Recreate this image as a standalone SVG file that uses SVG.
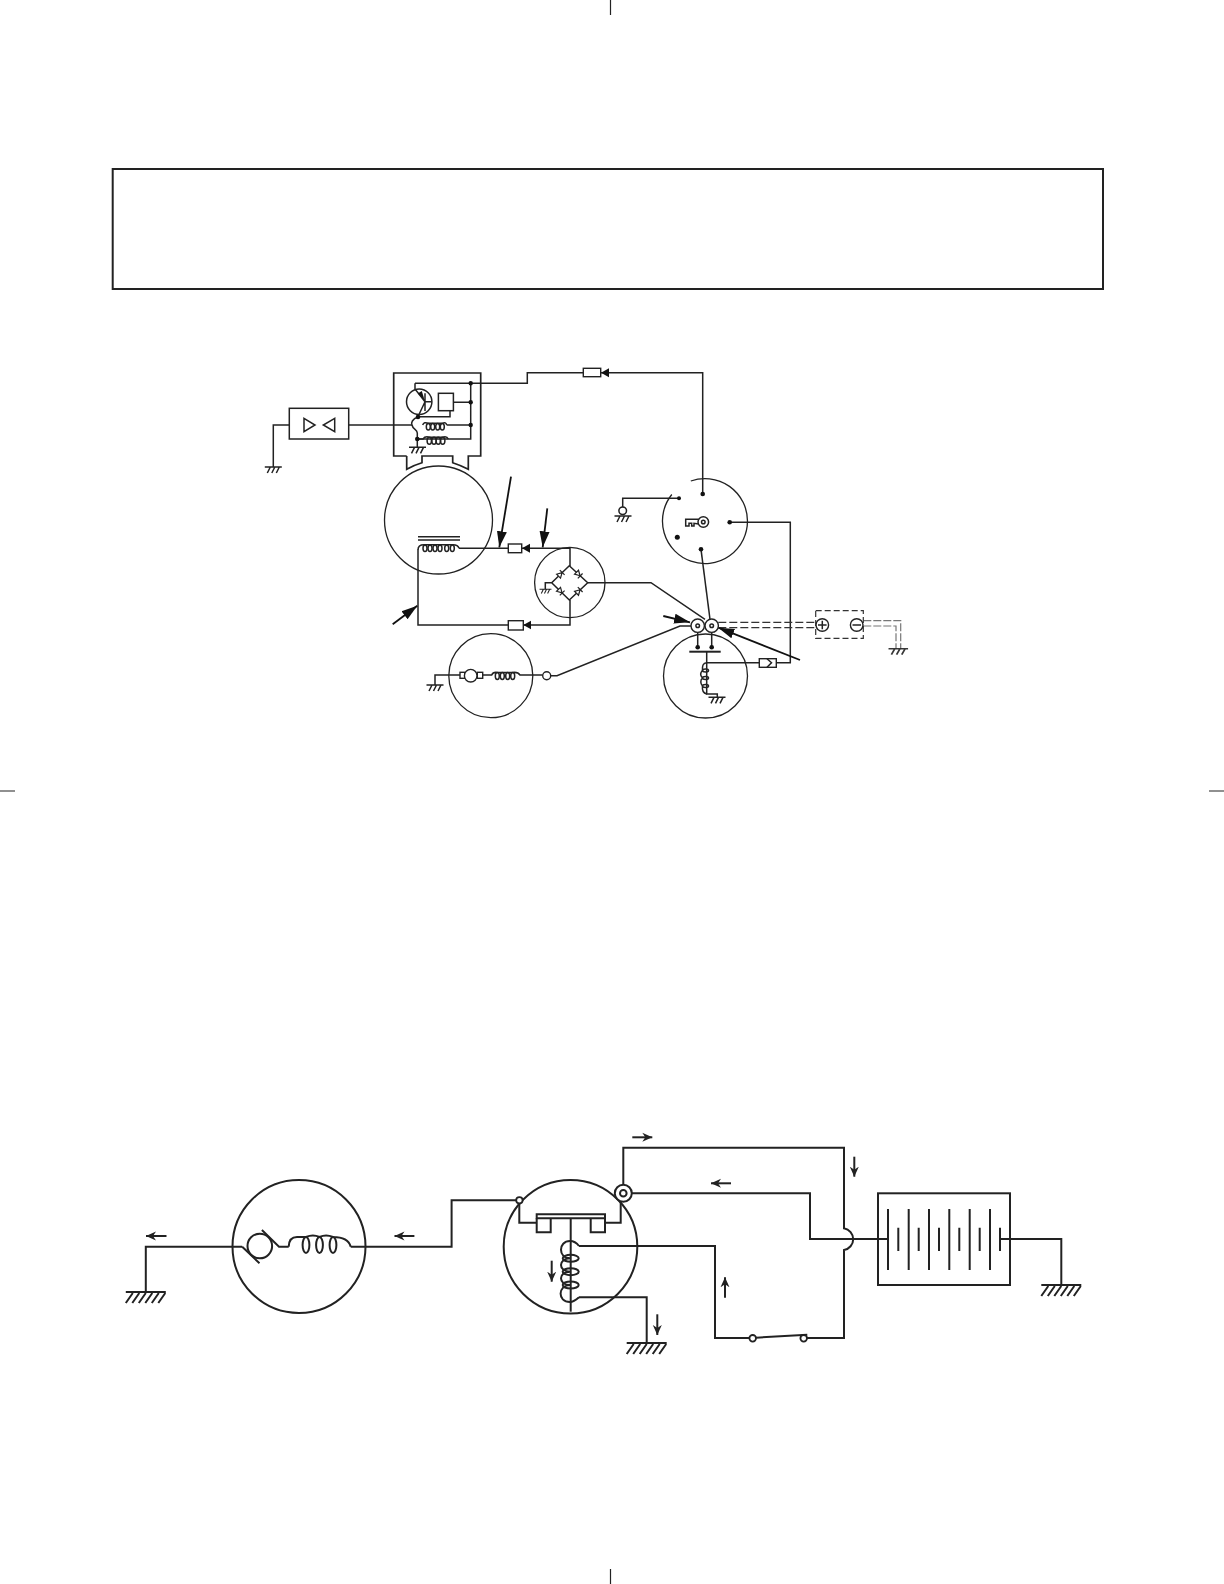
<svg xmlns="http://www.w3.org/2000/svg" width="1224" height="1584" viewBox="0 0 1224 1584">
<style>
.w{fill:none;stroke:#222;stroke-width:1.5;stroke-linejoin:miter}
.b{fill:none;stroke:#222;stroke-width:2;stroke-linejoin:miter}
.f{fill:#fff;stroke:#222;stroke-width:1.4}
.k{fill:#111;stroke:none}
.d{fill:none;stroke:#333;stroke-width:1.2;stroke-dasharray:8 3}
.g{fill:none;stroke:#777;stroke-width:1.2;stroke-dasharray:8 2}
.l{fill:none;stroke:#111;stroke-width:1.8}
</style>
<defs>
<marker id="head" markerUnits="userSpaceOnUse" markerWidth="17" markerHeight="12" refX="16" refY="6" orient="auto"><path d="M0,1 L16,6 L0,11z" fill="#111"/></marker>
<marker id="tip" markerUnits="userSpaceOnUse" markerWidth="9" markerHeight="10" refX="8" refY="5" orient="auto"><path d="M0,0.500 L8,5 L0,9.500z" fill="#111"/></marker>
<marker id="barb" markerUnits="userSpaceOnUse" markerWidth="11" markerHeight="12" refX="10" refY="6" orient="auto"><path d="M0,1.500 L10,6 L0,10.500 L3,6z" fill="#222"/></marker>
<g id="gs" class="w"><path d="M-8.500,0H8.500M-3,0l-3,6M1.500,0l-3,6M6,0l-3,6"/></g>
<g id="gl" class="b"><path d="M-20,0H20M-13,1l-7,10M-6.500,1l-7,10M0,1l-7,10M6.500,1l-7,10M13,1l-7,10M19.500,1l-7,10"/></g>
<g id="diode"><path d="M-2.800,-2.800V2.800L2.200,0z" fill="#fff" stroke="#222" stroke-width="1.200"/><path d="M2.400,-3.400V3.400" stroke="#222" stroke-width="1.200"/></g>
</defs>

<g id="page-marks" class="w" style="stroke-width:1.200">
<path d="M610.500,0V15M610.500,1569V1584M0,791H15M1209,791H1224"/>
</g>
<g id="title-box"><rect x="112.700" y="169" width="990.300" height="120" fill="none" stroke="#222" stroke-width="2"/></g>

<g id="connectors">
<g class="w">
<path d="M289.300,425H273.300V467"/>
<path d="M348.700,425H412"/>
<path d="M415,383.300H527.300V372.700H583.300"/>
<path d="M702.700,494V372.700H601" marker-end="url(#tip)"/>
<path d="M459,548.300H508.300"/>
<path d="M570,566V548.300H522" marker-end="url(#tip)"/>
<path d="M570,600V625H523.300" marker-end="url(#tip)"/>
<path d="M508.300,625H418V549.500"/>
<path d="M587.700,582.700H651L705,619.300"/>
<path d="M550.700,675.700H557L680,626H691"/>
<path d="M679,498.300H622.700V507"/>
<path d="M729.700,522.300H790.300V662.700H776.700"/>
<path d="M759.300,662.700H706.700"/>
<path d="M701,549.300L710,619.300"/>
<path d="M697.700,632V647.300M711.700,632V647.300"/>
</g>
<path class="d" d="M718.300,622.300H816M718.300,627.700H816"/>
<path class="g" d="M863.300,620.700H900.700V648.700M863.300,626H896V648.700"/>
<g>
<path class="l" d="M511,476.700L499.300,547.300" marker-end="url(#head)"/>
<path class="l" d="M547.300,508.300L542.700,547.300" marker-end="url(#head)"/>
<path class="l" d="M392.700,624.300L417.300,605.700" marker-end="url(#head)"/>
<path class="l" d="M663.300,616L690,622.300" marker-end="url(#head)"/>
<path class="l" d="M800,660L718.300,627.700" marker-end="url(#head)"/>
</g>
<g class="b">
<path d="M242.200,1246.700H145.800V1292"/>
<path d="M350.700,1246.700H451.600V1200.300H516"/>
<path d="M623.300,1185V1147.700H844V1228.300A11,11 0 0 1 844,1250V1338H807"/>
<path d="M631.700,1193.300H810V1239H888"/>
<path d="M579,1246H715V1338H749.400"/>
<path d="M756,1337.700L807.300,1334.700"/>
<path d="M1000,1239H1061.300V1285"/>
<path d="M579,1297.300H646.700V1343"/>
</g>
<g class="b">
<path d="M166.500,1236H146" marker-end="url(#barb)"/>
<path d="M414.400,1236H394.500" marker-end="url(#barb)"/>
<path d="M632.300,1137.300H652.300" marker-end="url(#barb)"/>
<path d="M854.300,1156.700V1176.700" marker-end="url(#barb)"/>
<path d="M731,1183.300H711" marker-end="url(#barb)"/>
<path d="M725,1297.700V1277.300" marker-end="url(#barb)"/>
<path d="M657.300,1314.300V1335" marker-end="url(#barb)"/>
<path d="M551.700,1260.700V1281.700" marker-end="url(#barb)"/>
</g>
</g>

<g id="diode-trio">
<rect class="w" x="289.300" y="408.300" width="59.400" height="30.700"/>
<path class="w" d="M304,418.300L315,425L304,431.700zM334.700,418.300L323.300,425L334.700,431.700z"/>
<use href="#gs" x="273.300" y="467"/>
</g>

<g id="regulator">
<path class="w" style="stroke-width:1.700" d="M406.700,456H393.700V373H480.700V456H468.300V469.300Q460,465 452.700,462.700V456H422V462.700Q414,465 406.700,469.300V456"/>
<circle class="w" cx="419.200" cy="401.700" r="12.700"/>
<path class="w" d="M415,383.300V389L425,401.700M425,393.300V411M425,401.700L417.700,417.300M425,401.700H431.700"/>
<path class="k" d="M424.500,400L417.800,393.500L421.800,391z"/>
<rect class="w" x="438.400" y="393.300" width="15" height="17.400"/>
<path class="w" d="M453.400,402.300H470.700M450,410.700V416.700H418M470.700,383.300V439H417.300M446.700,425H470.700"/>
<path class="w" d="M418,417C412,419 411,423 412,425C413,430 417,429 417.300,433V447.300"/>
<path class="w" d="M422.700,425Q424,421.500 428.300,423.300H442.300Q446,421.500 446.700,425"/>
<g class="w" fill="none"><ellipse cx="428.300" cy="426.700" rx="2" ry="3.300"/><ellipse cx="432.700" cy="426.700" rx="2" ry="3.300"/><ellipse cx="437.700" cy="426.700" rx="2" ry="3.300"/><ellipse cx="442.300" cy="426.700" rx="2" ry="3.300"/>
<path d="M417.300,439H423Q425,436 429.300,437.200H442.700Q447,436 448.300,439"/>
<ellipse cx="429.300" cy="440.700" rx="2.200" ry="3.500"/><ellipse cx="434" cy="440.700" rx="2.200" ry="3.500"/><ellipse cx="438.300" cy="440.700" rx="2.200" ry="3.500"/><ellipse cx="442.700" cy="440.700" rx="2.200" ry="3.500"/></g>
<g class="k"><circle cx="470.700" cy="383.300" r="2.200"/><circle cx="470.700" cy="402.300" r="2.200"/><circle cx="470.700" cy="425" r="2.200"/><circle cx="418" cy="417" r="2.300"/><circle cx="417.300" cy="439" r="2.300"/></g>
<use href="#gs" x="417.500" y="447.300"/>
</g>

<g id="generator">
<circle class="w" cx="438.500" cy="520" r="54" style="stroke-width:1.300"/>
<path class="w" d="M418,536.700H460M418,540H460"/>
<path class="w" d="M418,550Q418,544.800 424,544.800H453Q458,544.800 459,548.300"/>
<g class="w"><ellipse cx="425" cy="548.300" rx="2" ry="3.300"/><ellipse cx="430" cy="548.300" rx="2" ry="3.300"/><ellipse cx="435" cy="548.300" rx="2" ry="3.300"/><ellipse cx="440" cy="548.300" rx="2" ry="3.300"/><ellipse cx="446.700" cy="548.300" rx="2" ry="3.300"/><ellipse cx="452.300" cy="548.300" rx="2" ry="3.300"/></g>
</g>

<g id="fuses">
<rect class="f" x="583.300" y="368.300" width="17.400" height="8.400"/>
<rect class="f" x="508.300" y="544" width="13.400" height="8.700"/>
<rect class="f" x="508.300" y="620.700" width="15" height="9.300"/>
</g>

<g id="rectifier">
<circle class="w" cx="569.800" cy="582.500" r="35.200" style="stroke-width:1.300"/>
<path class="w" d="M569.300,565.700L587.700,582.700L569.300,600L551.700,582.700zM551.700,582.700H545.300V589.300"/>
<use href="#gs" transform="translate(545.500 589.300) scale(.7)"/>
<use href="#diode" transform="translate(560.500 574.200) rotate(-45)"/>
<use href="#diode" transform="translate(578.500 574.200) rotate(45)"/>
<use href="#diode" transform="translate(560.500 591.300) rotate(45)"/>
<use href="#diode" transform="translate(578.500 591.300) rotate(-45)"/>
</g>

<g id="starter-motor-top">
<circle class="w" cx="490.800" cy="675.700" r="42" style="stroke-width:1.300"/>
<path class="w" d="M435,685V675H460M482.700,675H491.700Q493,671.800 497.300,672.500H512.700Q518,671.800 520,675H542.700"/>
<use href="#gs" x="435" y="685"/>
<rect class="f" x="460" y="672.300" width="4.700" height="6"/>
<rect class="f" x="477.300" y="672.300" width="5.400" height="6"/>
<circle class="f" cx="470.700" cy="675.700" r="6.300"/>
<g class="w"><ellipse cx="497.300" cy="676" rx="2" ry="3.500"/><ellipse cx="502.300" cy="676" rx="2" ry="3.500"/><ellipse cx="507.700" cy="676" rx="2" ry="3.500"/><ellipse cx="512.700" cy="676" rx="2" ry="3.500"/></g>
<circle class="f" cx="546.700" cy="675.700" r="4"/>
</g>

<g id="ignition-switch">
<path class="w" style="stroke-width:1.300" d="M671.800,494.500A42.500,42.500 0 1 0 690.800,481"/>
<g class="k"><circle cx="679" cy="498.300" r="2"/><circle cx="702.700" cy="494" r="2.300"/><circle cx="729.700" cy="522.300" r="2.300"/><circle cx="677.300" cy="537.300" r="2.500"/><circle cx="701" cy="549.300" r="2.300"/></g>
<path class="w" d="M698.700,519.300H685.700V526H689V523.300H691.700V526H694V523.300L698.700,524"/>
<circle class="w" cx="703.300" cy="522" r="5.300"/>
<circle class="w" cx="703.300" cy="522" r="1.800"/>
</g>

<g id="indicator-lamp">
<circle class="w" cx="622.700" cy="510.700" r="3.800"/>
<use href="#gs" x="623" y="516"/>
</g>

<g id="terminals">
<circle class="f" cx="697.700" cy="625.700" r="6.700"/><circle class="w" cx="697.700" cy="625.700" r="1.800"/>
<circle class="f" cx="711.700" cy="625.700" r="6.700"/><circle class="w" cx="711.700" cy="625.700" r="1.800"/>
</g>

<g id="solenoid-top">
<circle class="w" cx="705.500" cy="676" r="42" style="stroke-width:1.300"/>
<g class="k"><circle cx="697.700" cy="647.300" r="2.300"/><circle cx="711.700" cy="647.300" r="2.300"/></g>
<path class="b" d="M689.300,651.700H720.700"/>
<path class="w" d="M706.700,651.700V694H717.300V697.300"/>
<path class="w" d="M706.700,662.700C703,663 702,666 702.500,670.500C700,673 700.500,676 702.500,678C700,680 700.500,684 702.500,686C702,690 703,693 706.700,694"/>
<g class="w"><ellipse cx="705.500" cy="670.500" rx="3" ry="1.500"/><ellipse cx="705.500" cy="678" rx="3" ry="1.500"/><ellipse cx="705.500" cy="686" rx="3" ry="1.500"/></g>
<use href="#gs" x="717" y="697.300"/>
<rect class="f" x="759.300" y="658.700" width="17" height="8.600"/>
<path class="w" d="M767,658.700L771.500,662.700L767,667.300"/>
</g>

<g id="battery-top">
<rect class="d" style="stroke-dasharray:6 3" x="815.700" y="610.700" width="47.600" height="27.600"/>
<circle class="f" cx="822.300" cy="625" r="6.300"/><path class="w" d="M818,625H826.600M822.300,620.700V629.300"/>
<circle class="f" cx="856.700" cy="625" r="6.300"/><path class="w" d="M852.500,625H861"/>
<use href="#gs" transform="translate(898.300 648.700) scale(1.150 1)" style="opacity:.9"/>
</g>

<g id="motor">
<circle class="b" cx="299" cy="1246.500" r="66.500"/>
<circle class="b" cx="259.800" cy="1246" r="12.300"/>
<path class="b" d="M242.200,1246.700L259.500,1263.300M261.900,1230L279,1246.700H288.700"/>
<path class="b" d="M288.700,1246.700Q289,1237 297,1237Q302,1237 306,1237Q313,1234 319.500,1237Q326,1234 333,1237Q348,1237 350.700,1246.700"/>
<ellipse class="b" cx="306" cy="1245" rx="3.400" ry="8"/><ellipse class="b" cx="319.500" cy="1245" rx="3.400" ry="8"/><ellipse class="b" cx="333" cy="1245" rx="3.400" ry="8"/>
<use href="#gl" x="145.800" y="1292"/>
</g>

<g id="relay">
<circle class="b" cx="570.500" cy="1246.700" r="66.800"/>
<path class="b" d="M519.300,1203V1222.700H536.700M605,1222.700H620.700V1200"/>
<path class="b" d="M536.700,1214.300H605V1218.300H536.700z"/>
<path class="b" d="M536.700,1218.300V1232.300H550.700V1218.300M590.700,1218.300V1232.300H605V1218.300"/>
<path class="b" d="M570.700,1218.300V1311.700"/>
<path class="b" d="M579,1246C576,1242 573,1241 570,1241C558,1241 558,1258.300 570,1258.300C558,1258.300 558,1271.700 570,1271.700C558,1271.700 558,1285 570,1285C558,1285 557,1302 570,1302C573,1302 576,1300 579,1297.300"/>
<ellipse class="b" cx="570.700" cy="1258.300" rx="8" ry="3.500"/><ellipse class="b" cx="570.700" cy="1271.700" rx="8" ry="3.500"/><ellipse class="b" cx="570.700" cy="1285" rx="8" ry="3.500"/>
<circle cx="519.400" cy="1200.300" r="3.200" fill="#fff" stroke="#222" stroke-width="1.800"/>
<circle cx="623.300" cy="1193.300" r="8.500" fill="#fff" stroke="#222" stroke-width="2"/>
<circle cx="623.300" cy="1193.300" r="3.300" fill="#fff" stroke="#222" stroke-width="2"/>
<use href="#gl" x="646.700" y="1343"/>
</g>

<g id="switch">
<circle cx="752.700" cy="1338.300" r="3.300" fill="#fff" stroke="#222" stroke-width="1.800"/>
<circle cx="803.700" cy="1338.300" r="3.300" fill="#fff" stroke="#222" stroke-width="1.800"/>
</g>

<g id="battery">
<rect class="b" x="878" y="1193.300" width="132" height="91.700"/>
<path class="b" d="M888,1209V1270M908.700,1209V1270M929,1209V1270M949.300,1209V1270M969.700,1209V1270M990,1209V1270M898.300,1227.700V1251M918.700,1227.700V1251M939,1227.700V1251M959.300,1227.700V1251M979.700,1227.700V1251M1000,1227.700V1251"/>
<use href="#gl" x="1061.300" y="1285"/>
</g>
</svg>
